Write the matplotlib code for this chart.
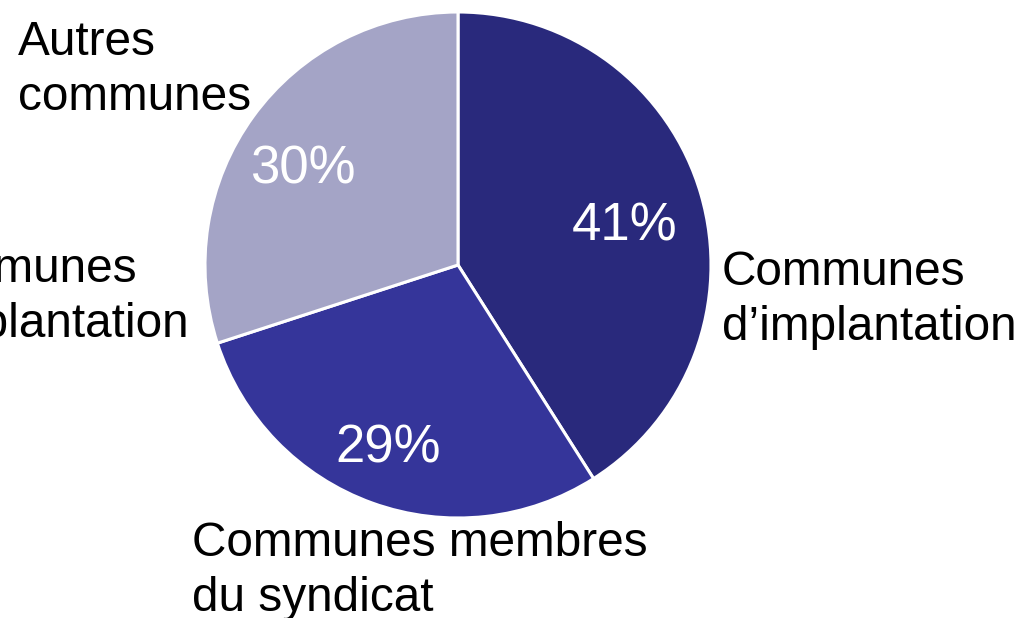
import matplotlib
matplotlib.use("Agg")
import matplotlib.pyplot as plt

plt.rcParams['font.family'] = ['Liberation Sans', 'DejaVu Sans']

categories = ["Communes\nd’implantation", "Communes membres\ndu syndicat", "Autres\ncommunes"]
values = [41, 29, 30]
colors = ["#29297C", "#35359A", "#A4A4C6"]

W, H = 1024, 618
fig = plt.figure(figsize=(W / 100, H / 100), dpi=100)
ax = fig.add_axes([0, 0, 1, 1])

cx, cy, r = 458, H - 265, 253
wedges, texts, autotexts = ax.pie(
    values, colors=colors, startangle=90, counterclock=False,
    center=(cx, cy), radius=r, autopct='%d%%', pctdistance=0.72,
    wedgeprops=dict(edgecolor='white', linewidth=2.2),
    textprops=dict(color='white', fontsize=38), frame=True)
for t in autotexts:
    x, y = t.get_position()
    t.set_position((x - 8, y - 12))
ax.set_xlim(0, W)
ax.set_ylim(0, H)
ax.set_aspect('equal')
ax.axis('off')

fs = 34.4
label_pos = [(722, 285), (192, 556), (18, 55)]
for lab, (x, y) in zip(categories, label_pos):
    first, second = lab.split("\n")
    ax.text(x, H - y, first, fontsize=fs, ha='left', va='baseline', color='black')
    ax.text(x, H - y - 55, second, fontsize=fs, ha='left', va='baseline', color='black')

# clipped label on the left edge, as in the reference
ax.text(-106, H - 282, "Communes", fontsize=fs, ha='left', va='baseline', color='black', clip_on=False)
ax.text(-106, H - 337, "d’implantation", fontsize=fs, ha='left', va='baseline', color='black', clip_on=False)

fig.savefig("out.png", dpi=100)
